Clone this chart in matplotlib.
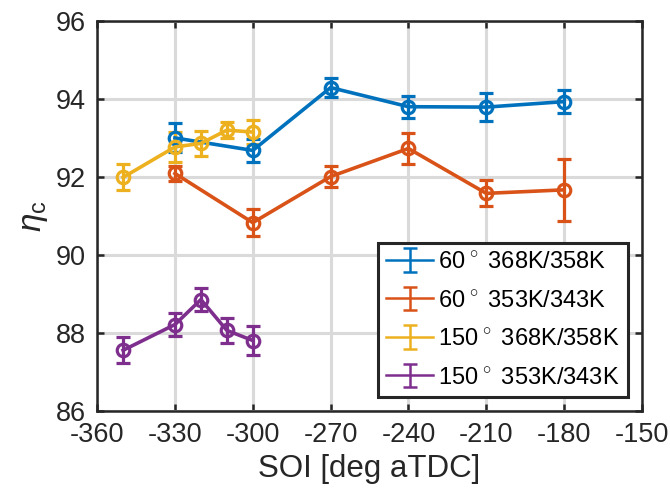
import numpy as np
import matplotlib
matplotlib.use('Agg')
from matplotlib import pyplot as plt

plt.rcParams['font.family'] = ['Liberation Sans', 'DejaVu Sans']
plt.rcParams['mathtext.fontset'] = 'custom'
plt.rcParams['mathtext.rm'] = 'Liberation Sans'
plt.rcParams['mathtext.it'] = 'Liberation Sans:italic'
plt.rcParams['axes.unicode_minus'] = False

# data
soi_a = [-330, -300, -270, -240, -210, -180]
eta_a = [93.0, 92.68, 94.29, 93.80, 93.79, 93.93]
err_a = [0.37, 0.30, 0.25, 0.28, 0.35, 0.30]

soi_b = [-330, -300, -270, -240, -210, -180]
eta_b = [92.09, 90.83, 92.01, 92.73, 91.58, 91.67]
err_b = [0.20, 0.35, 0.26, 0.40, 0.33, 0.80]

soi_c = [-350, -330, -320, -310, -300]
eta_c = [91.99, 92.77, 92.86, 93.20, 93.15]
err_c = [0.33, 0.38, 0.32, 0.20, 0.30]

soi_d = [-350, -330, -320, -310, -300]
eta_d = [87.56, 88.22, 88.86, 88.07, 87.81]
err_d = [0.33, 0.30, 0.30, 0.32, 0.38]

labels = ['60$^{\\,\\circ}$ 368K/358K', '60$^{\\,\\circ}$ 353K/343K',
          '150$^{\\,\\circ}$ 368K/358K', '150$^{\\,\\circ}$ 353K/343K']
colors = ['#0072BD', '#D95319', '#EDB120', '#7E2F8E']
series = [(soi_a, eta_a, err_a), (soi_b, eta_b, err_b),
          (soi_c, eta_c, err_c), (soi_d, eta_d, err_d)]

fig = plt.figure(figsize=(6.7, 4.96), dpi=100)
ax = fig.add_axes([0.145, 0.171, 0.813, 0.787])

for (x, y, e), col in zip(series, colors):
    ax.errorbar(x, y, yerr=e, color=col, lw=2.6, marker='o', ms=9,
                mfc='none', mew=2.3, capsize=5, capthick=2.3, elinewidth=2.3)

# legend proxies (line + error bar, no marker like the original)
handles = []
for lbl, col in zip(labels, colors):
    h = ax.errorbar([np.nan], [np.nan], yerr=[np.nan], color=col, lw=1.8,
                    capsize=5, capthick=1.8, elinewidth=1.8, label=lbl)
    handles.append(h)

ax.set_xlim(-360, -150)
ax.set_ylim(86, 96)
ax.set_xticks(np.arange(-360, -149, 30))
ax.set_yticks(np.arange(86, 97, 2))
ax.grid(True, color='#dadada', lw=2.2)
ax.set_axisbelow(True)
for s in ax.spines.values():
    s.set_linewidth(1.8)
    s.set_color('#262626')
ax.tick_params(labelsize=19.5, width=1.8, length=5, direction='in', colors='#262626',
               top=True, right=True)
ax.tick_params(axis='x', pad=8)
ax.tick_params(axis='y', pad=8)
ax.set_xlabel('SOI [deg aTDC]', fontsize=22.5, color='#262626', labelpad=4)
ax.set_ylabel('$\\eta_{\\mathrm{c}}$', fontsize=24, color='#262626', labelpad=4)

leg = ax.legend(handles=handles, loc='lower right', fontsize=17, fancybox=False,
                edgecolor='#262626', framealpha=1, handlelength=2.0,
                handletextpad=0.2, borderpad=0.35, labelspacing=0.7,
                borderaxespad=0.6)
leg.get_frame().set_linewidth(2.2)

fig.savefig('out.png')
